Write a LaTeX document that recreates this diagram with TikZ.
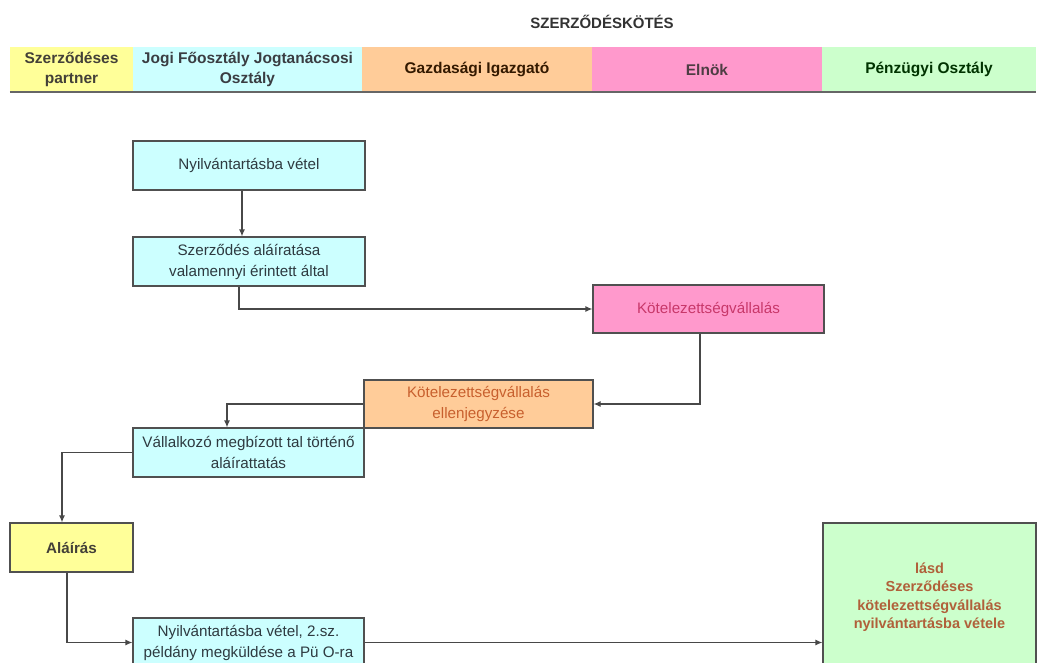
\documentclass[tikz,border=0pt]{standalone}
\usepackage{fontspec}
\setmainfont{Liberation Sans}
\usetikzlibrary{arrows.meta}
\definecolor{cyanf}{HTML}{CCFFFF}
\definecolor{yelf}{HTML}{FFFF99}
\definecolor{orf}{HTML}{FFCC99}
\definecolor{pinkf}{HTML}{FF99CC}
\definecolor{grnf}{HTML}{CCFFCC}
\definecolor{edge}{HTML}{505050}
\definecolor{pinktxt}{HTML}{C8386A}
\definecolor{ortxt}{HTML}{C8602E}
\definecolor{grntxt}{HTML}{B0603A}
\definecolor{boxtxt}{HTML}{2E3A40}
\tikzset{
  hdr/.style={inner sep=0pt, minimum height=45pt, align=center, font=\fontsize{15.5}{19.5}\selectfont\bfseries},
  pbox/.style={draw=edge, line width=1.2pt, inner sep=0pt, align=center, minimum height=49pt,
    font=\fontsize{15.2}{21}\selectfont, text=boxtxt},
  arr/.style={draw=edge!90!black, line width=1.2pt, -{Latex[length=7pt,width=6pt]}},
}
\begin{document}
\begin{tikzpicture}[x=1pt,y=-1pt]
\useasboundingbox (0,0) rectangle (1041,663);
\clip (0,0) rectangle (1041,663);
\fill[white] (0,0) rectangle (1041,663);
% title
\node[font=\fontsize{15}{18}\selectfont\bfseries, text=black!80] (title) at (602,22) {SZERZŐDÉSKÖTÉS};
% header
\node[hdr, fill=yelf, minimum width=123pt, text=black!85!yellow] (h1) at (71.5,69.5) {Szerződéses\\partner};
\node[hdr, fill=cyanf, minimum width=229pt, text=black!85!cyan] (h2) at (247.5,69.5) {Jogi Főosztály Jogtanácsosi\\Osztály};
\node[hdr, fill=orf, minimum width=230pt, text=black!80!orange] (h3) at (477,69.5) {Gazdasági Igazgató};
\node[hdr, fill=pinkf, minimum width=230pt, text=black!80!magenta] (h4) at (707,69.5) {Elnök};
\node[hdr, fill=grnf, minimum width=214pt, text=black!80!green] (h5) at (929,69.5) {Pénzügyi Osztály};
\draw[line width=2pt, color=black!60] (h1.south west) -- (h5.south east);
% boxes
\node[pbox, fill=cyanf, minimum width=232pt] (n1) at (249,165.5) {Nyilvántartásba vétel};
\node[pbox, fill=cyanf, minimum width=232pt] (n2) at (249,261.5) {Szerződés aláíratása\\valamennyi érintett által};
\node[pbox, fill=pinkf, minimum width=231pt, minimum height=48pt, text=pinktxt] (k) at (708.5,309) {Kötelezettségvállalás};
\node[pbox, fill=orf, minimum width=229pt, minimum height=48pt, text=ortxt] (e) at (478.5,404) {Kötelezettségvállalás\\ellenjegyzése};
\node[pbox, fill=cyanf, minimum width=231pt] (v) at (248.5,452.5) {Vállalkozó megbízott tal történő\\aláírattatás};
\node[pbox, fill=yelf, minimum width=123pt, font=\fontsize{15.2}{19}\selectfont\bfseries, text=black!85!yellow] (a) at (71.5,547.5) {Aláírás};
\node[pbox, fill=cyanf, minimum width=231pt] (n3) at (248.5,642.5) {Nyilvántartásba vétel, 2.sz.\\példány megküldése a Pü O-ra};
\node[pbox, fill=grnf, minimum width=213pt, minimum height=148pt, text=grntxt,
  font=\fontsize{14.5}{18.5}\selectfont\bfseries] (g) at (929.5,597) {lásd\\Szerződéses\\kötelezettségvállalás\\nyilvántartásba vétele};
% connectors
\draw[arr] ([xshift=-7pt]n1.south) -- ([xshift=-7pt]n2.north);
\draw[arr] ([xshift=-10pt]n2.south) |- (k.west);
\draw[arr] ([xshift=-8.5pt]k.south) |- (e.east);
\draw[arr] (e.west) -| ([xshift=-21.5pt]v.north);
\draw[arr] (v.west) -| ([xshift=-9.5pt]a.north);
\draw[arr] ([xshift=-4.5pt]a.south) |- (n3.west);
\draw[arr] (n3.east) -- (n3.east -| g.west);
\end{tikzpicture}
\end{document}
